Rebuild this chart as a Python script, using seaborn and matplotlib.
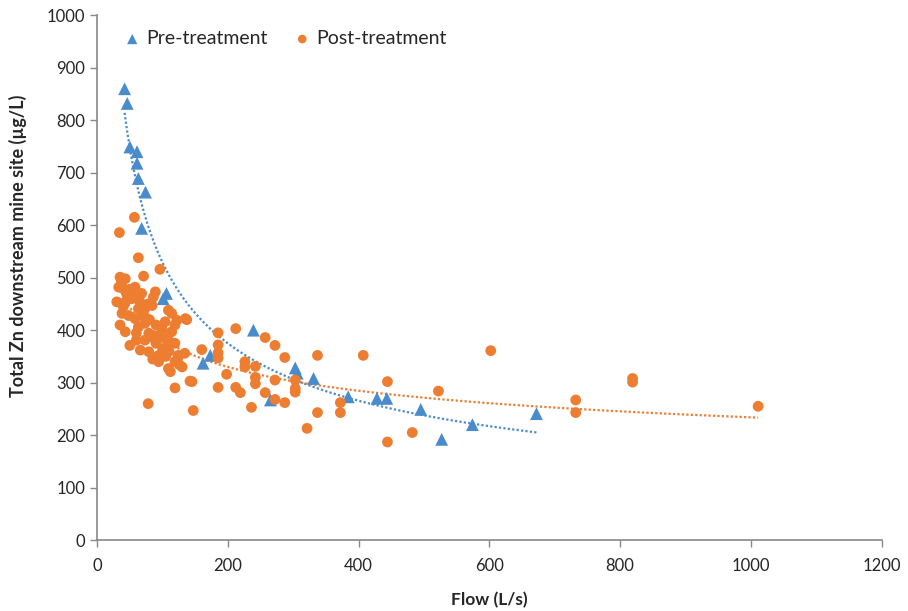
import numpy as np
import pandas as pd
import matplotlib
matplotlib.use("Agg")
import matplotlib.pyplot as plt
import seaborn as sns

# Pre-treatment samples (flow L/s, total Zn ug/L)
pre_flow = [42, 46, 50, 61, 61, 63, 74, 68, 101, 106, 162, 173, 239, 265,
            303, 306, 331, 384, 428, 443, 495, 527, 574, 672]
pre_zn = [860, 832, 749, 740, 718, 689, 663, 594, 460, 470, 337, 352, 400, 267,
          328, 318, 308, 273, 270, 270, 249, 192, 220, 241]

# Post-treatment samples
post_flow = [34, 57, 63, 96, 71, 35, 43, 38, 33, 40, 58, 50, 30, 43, 53, 89, 86,
             63, 73, 84, 109, 114, 38, 48, 58, 73, 135, 104, 119, 35, 43, 63, 73,
             79, 114, 50, 60, 73, 84, 94, 104, 111, 119, 66, 79, 94, 124, 134,
             94, 119, 124, 109, 112, 145, 119, 78, 147,
             45, 55, 65, 40, 70, 80, 90, 100, 60, 90, 100, 110, 85, 105, 125,
             130, 68, 78, 122, 86, 96,
             137, 212, 185, 257, 272, 160, 185, 185, 185, 287, 337, 407, 226,
             226, 242, 198, 242, 242, 272, 303, 303, 303, 444, 142, 185, 212,
             219, 257, 272, 287, 372, 372, 337, 236, 321, 444, 602, 522, 732,
             732, 482, 819, 819, 1011]
post_zn = [586, 615, 538, 516, 503, 501, 498, 492, 482, 479, 482, 478, 454, 454,
           460, 473, 463, 441, 441, 447, 438, 432, 432, 428, 422, 425, 422, 416,
           410, 410, 397, 406, 413, 394, 397, 371, 381, 381, 387, 390, 384, 378,
           375, 362, 359, 352, 352, 356, 340, 340, 349, 327, 321, 302, 290, 260,
           247,
           470, 465, 455, 445, 430, 420, 410, 400, 395, 375, 365, 360, 345, 350,
           335, 330, 470, 450, 419, 390, 390,
           420, 403, 395, 386, 371, 363, 372, 357, 347, 348, 352, 352, 340, 330,
           331, 316, 310, 298, 305, 305, 289, 282, 302, 303, 291, 291, 281, 281,
           268, 262, 262, 243, 243, 253, 213, 187, 361, 284, 267, 243, 205, 308,
           301, 255]

BLUE = "#4a8ccb"
ORANGE = "#ed7d31"

pre = pd.DataFrame({"flow": pre_flow, "zn": pre_zn})
post = pd.DataFrame({"flow": post_flow, "zn": post_zn})

sns.set_style("white")
plt.rcParams["font.family"] = ["Lato", "DejaVu Sans"]

fig = plt.figure(figsize=(9.08, 6.11), dpi=100)
ax = fig.add_axes([0.107, 0.116, 0.864, 0.859])

sns.scatterplot(data=pre, x="flow", y="zn", marker="^", s=85, color=BLUE,
                edgecolor="none", label="Pre-treatment", ax=ax, zorder=3)
sns.scatterplot(data=post, x="flow", y="zn", marker="o", s=60, color=ORANGE,
                edgecolor="none", label="Post-treatment", ax=ax, zorder=3)


def power_trend(df, color):
    # Excel-style power trendline: linear fit in log-log space
    b, lna = np.polyfit(np.log(df["flow"]), np.log(df["zn"]), 1)
    xs = np.linspace(df["flow"].min(), df["flow"].max(), 300)
    ax.plot(xs, np.exp(lna) * xs ** b, color=color, lw=1.6,
            linestyle=(0, (1, 1)), zorder=2)


power_trend(pre, BLUE)
power_trend(post, ORANGE)

ax.set_xlim(0, 1200)
ax.set_ylim(0, 1000)
ax.set_xticks(range(0, 1201, 200))
ax.set_yticks(range(0, 1001, 100))
ax.tick_params(axis="both", direction="out", length=5, width=1, color="#888888",
               labelsize=12, labelcolor="#262626", bottom=True, left=True)
ax.tick_params(axis="x", pad=8)

for side in ["top", "right"]:
    ax.spines[side].set_visible(False)
for side in ["left", "bottom"]:
    ax.spines[side].set_color("#888888")
    ax.spines[side].set_linewidth(1.2)

ax.set_xlabel("Flow (L/s)", fontsize=12.5, fontweight="bold", color="#262626")
ax.set_ylabel("Total Zn downstream mine site (µg/L)", fontsize=13, fontweight="bold",
              color="#262626")
ax.xaxis.set_label_coords(0.5, -0.098)
ax.yaxis.set_label_coords(-0.09, 0.56)

ax.legend(loc="upper left", bbox_to_anchor=(0.01, 1.005), ncol=2, frameon=False,
          fontsize=14, markerscale=0.8, handlelength=1.0, handletextpad=0.2,
          columnspacing=1.3, labelcolor="#262626")

fig.savefig("out.png", dpi=100)
